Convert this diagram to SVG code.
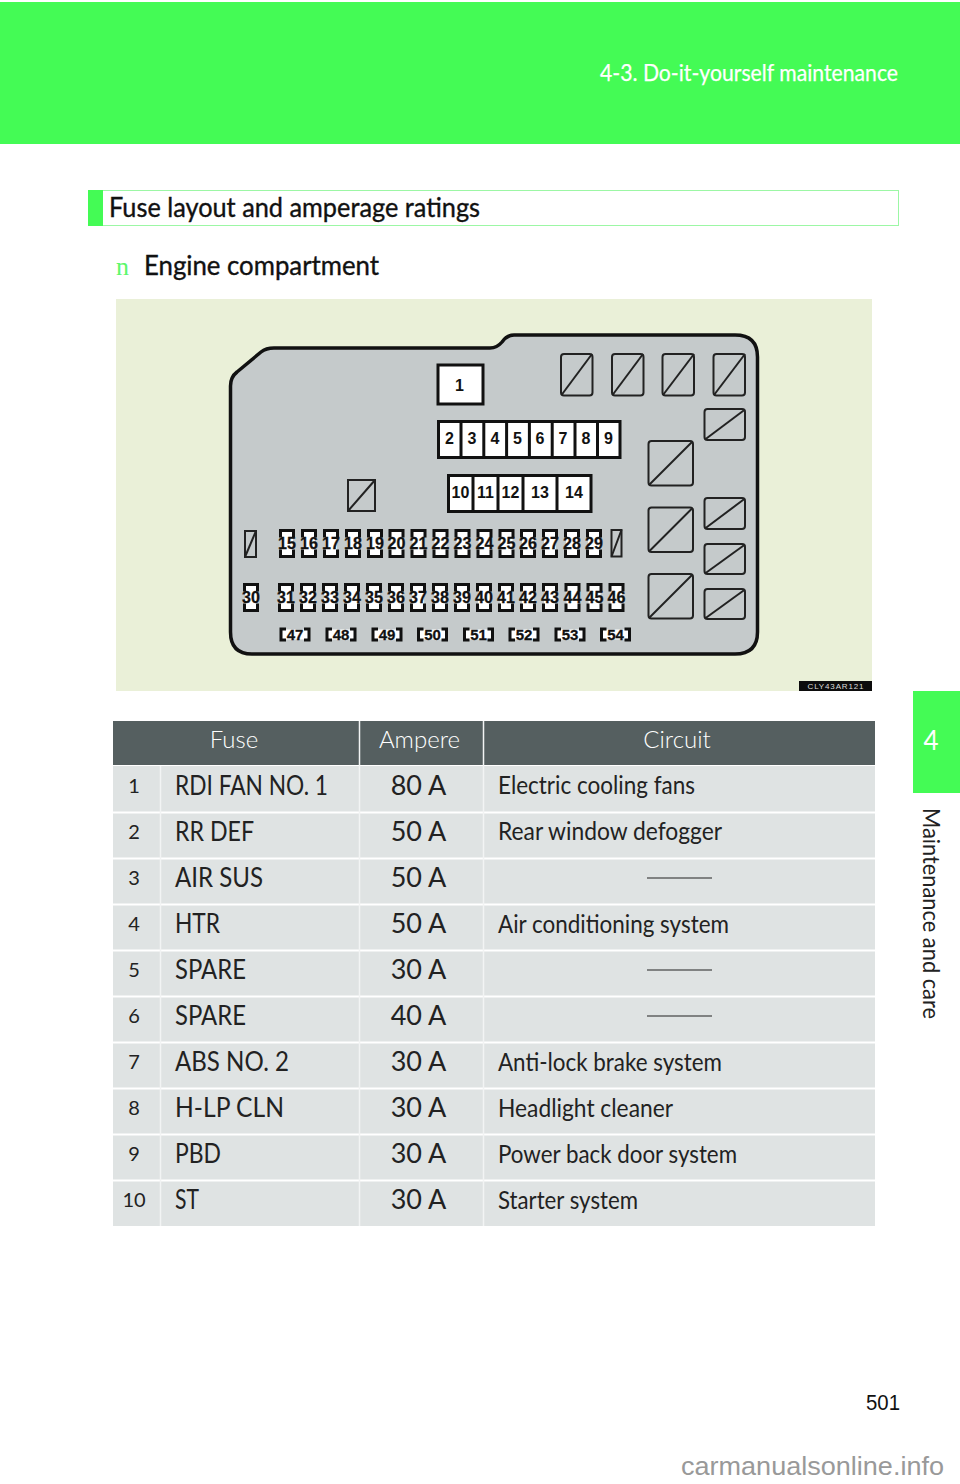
<svg xmlns="http://www.w3.org/2000/svg" xmlns:xlink="http://www.w3.org/1999/xlink" width="960" height="1484" viewBox="0 0 960 1484">
<style>
.l{font-family:Lato,"Open Sans",sans-serif}
.b{font-family:"Liberation Sans",Arial,sans-serif;font-weight:700;fill:#111;text-anchor:middle}
.box{fill:#fff;stroke:#111;stroke-width:3}
.div{stroke:#111;stroke-width:3;fill:none}
.rel{fill:none;stroke:#222;stroke-width:2}
.n1{font-size:16px;stroke:#111;stroke-width:.3}.n2{font-size:16px}.n4{font-size:15px;stroke:#111;stroke-width:.3}
.th{font-size:24px;font-weight:300;fill:#fff;text-anchor:middle}
.num{font-size:20px;font-weight:400;fill:#222;text-anchor:middle}
.nm{font-size:27px;font-weight:400;fill:#222}
.amp{font-size:27px;font-weight:400;fill:#222;text-anchor:middle}
.cir{font-size:25px;font-weight:400;fill:#222}
.sep{stroke:#fff;stroke-width:2}
.dash{stroke:#222;stroke-width:1.2}
.hd{font-size:26px;fill:#111;stroke:#111;stroke-width:.35}
</style>
<defs>
<g id="fs">
<rect x="-6" y="-13" width="12" height="26" fill="#fff"/>
<path d="M-6.500 -6V-13H6.500V-6M-6.500 6V13H6.500V6" fill="none" stroke="#111" stroke-width="3"/>
</g>
<g id="bk">
<rect x="-13" y="-5" width="26" height="10" fill="#fff"/>
<path d="M-9 -5.500H-14V5.500H-9M9 -5.500H14V5.500H9" fill="none" stroke="#111" stroke-width="3"/>
</g>
</defs>
<rect width="960" height="1484" fill="#fff"/>
<g id="header">
<rect x="0" y="2" width="960" height="142" fill="#44fb55"/>
<text class="l" x="600" y="81" font-size="22.500" fill="#fff" stroke="#fff" stroke-width=".25" textLength="298" lengthAdjust="spacingAndGlyphs">4-3. Do-it-yourself maintenance</text>
</g>
<g id="section-title">
<rect x="88.500" y="190.500" width="810" height="35" fill="#fff" stroke="#9cf7a5" stroke-width="1"/>
<rect x="88" y="190" width="15" height="36" fill="#44fb55"/>
<text class="l hd" x="109" y="217" textLength="371" lengthAdjust="spacingAndGlyphs">Fuse layout and amperage ratings</text>
</g>
<g id="subtitle">
<text x="116" y="275" font-family="'Liberation Serif',serif" font-size="26" fill="#5cf76a">n</text>
<text class="l hd" x="144" y="275" textLength="235" lengthAdjust="spacingAndGlyphs">Engine compartment</text>
</g>
<g id="figure">
<rect x="116" y="299" width="756" height="392" fill="#eaf0d8"/>
<rect x="799" y="681" width="73" height="10" fill="#0c0c0c"/>
<text x="835.500" y="689" font-family="'Liberation Sans',sans-serif" font-size="8" fill="#ddd" text-anchor="middle" textLength="56">CLY43AR121</text>
<path d="M230.500 386Q230.500 377 237 372L261 352Q266 348 274 348L490 348Q497 348 502 342Q507 335 514 335L735 335Q757.500 335 757.500 357L757.500 632Q757.500 654 735 654L252 654Q230.500 654 230.500 632Z" fill="#c5cacb" stroke="#111" stroke-width="3.500"/>
<g id="fuse-1"><rect class="box" x="438" y="365" width="45" height="39"/><text class="b n2" x="459.500" y="391">1</text></g>
<g id="fuses-2-9">
<rect class="box" x="438.500" y="421.500" width="181.500" height="36"/>
<path class="div" d="M461 421V458M483.800 421V458M506.600 421V458M529.400 421V458M552.200 421V458M575 421V458M597.500 421V458"/>
<g class="b n2"><text x="449.500" y="444">2</text><text x="472" y="444">3</text><text x="495" y="444">4</text><text x="517.500" y="444">5</text><text x="540" y="444">6</text><text x="563" y="444">7</text><text x="586" y="444">8</text><text x="608.500" y="444">9</text></g>
</g>
<g id="fuses-10-14">
<rect class="box" x="448.500" y="475.500" width="142.500" height="36"/>
<path class="div" d="M473 475V512M498 475V512M523 475V512M557 475V512"/>
<g class="b n2"><text x="460.500" y="498">10</text><text x="485.500" y="498">11</text><text x="510.500" y="498">12</text><text x="540" y="498">13</text><text x="574" y="498">14</text></g>
</g>
<g id="relays">
<rect class="rel" x="561" y="354" width="31.500" height="41.500" rx="3"/><path class="rel" d="M561.500 395L592 354"/>
<rect class="rel" x="612" y="354" width="31.500" height="41.500" rx="3"/><path class="rel" d="M612.500 395L643 354"/>
<rect class="rel" x="662.500" y="354" width="31.500" height="41.500" rx="3"/><path class="rel" d="M663 395L694 354"/>
<rect class="rel" x="713.500" y="354" width="31.500" height="41.500" rx="3"/><path class="rel" d="M714 395L745 354"/>
<rect class="rel" x="704.500" y="409" width="40.500" height="31" rx="3"/><path class="rel" d="M705 439.500L745 409.500"/>
<rect class="rel" x="648.500" y="441" width="44.500" height="44.500" rx="3"/><path class="rel" d="M649 485L692.500 441.500"/>
<rect class="rel" x="648.500" y="507.500" width="44.500" height="44.500" rx="3"/><path class="rel" d="M649 551.500L692.500 508"/>
<rect class="rel" x="648.500" y="574" width="44.500" height="44.500" rx="3"/><path class="rel" d="M649 618L692.500 574.500"/>
<rect class="rel" x="704.500" y="498" width="40.500" height="31" rx="3"/><path class="rel" d="M705 528.500L745 498.500"/>
<rect class="rel" x="704.500" y="544" width="40.500" height="30" rx="3"/><path class="rel" d="M705 573.500L745 544.500"/>
<rect class="rel" x="704.500" y="589" width="40.500" height="30" rx="3"/><path class="rel" d="M705 618.500L745 589.500"/>
<rect class="rel" x="348" y="480" width="27" height="31"/><path class="rel" d="M348 511L375 480"/>
<rect class="rel" x="245" y="531" width="11" height="26"/><path class="rel" d="M245 557L256 531"/>
<rect class="rel" x="611.500" y="530" width="10" height="26.500"/><path class="rel" d="M611.500 556.500L621.500 530"/>
</g>
<g id="fuses-15-29">
<use href="#fs" x="287" y="543.500"/><use href="#fs" x="309" y="543.500"/><use href="#fs" x="331" y="543.500"/><use href="#fs" x="353" y="543.500"/><use href="#fs" x="375" y="543.500"/><use href="#fs" x="396.500" y="543.500"/><use href="#fs" x="418.500" y="543.500"/><use href="#fs" x="440.500" y="543.500"/><use href="#fs" x="462.500" y="543.500"/><use href="#fs" x="484.500" y="543.500"/><use href="#fs" x="506.500" y="543.500"/><use href="#fs" x="528" y="543.500"/><use href="#fs" x="550" y="543.500"/><use href="#fs" x="572" y="543.500"/><use href="#fs" x="594" y="543.500"/>
<g class="b n1"><text x="287" y="549">15</text><text x="309" y="549">16</text><text x="331" y="549">17</text><text x="353" y="549">18</text><text x="375" y="549">19</text><text x="396.500" y="549">20</text><text x="418.500" y="549">21</text><text x="440.500" y="549">22</text><text x="462.500" y="549">23</text><text x="484.500" y="549">24</text><text x="506.500" y="549">25</text><text x="528" y="549">26</text><text x="550" y="549">27</text><text x="572" y="549">28</text><text x="594" y="549">29</text></g>
</g>
<g id="fuses-30-46">
<use href="#fs" x="251" y="597.500"/><use href="#fs" x="286" y="597.500"/><use href="#fs" x="308" y="597.500"/><use href="#fs" x="330" y="597.500"/><use href="#fs" x="352" y="597.500"/><use href="#fs" x="374" y="597.500"/><use href="#fs" x="396" y="597.500"/><use href="#fs" x="418" y="597.500"/><use href="#fs" x="440" y="597.500"/><use href="#fs" x="462" y="597.500"/><use href="#fs" x="484" y="597.500"/><use href="#fs" x="506" y="597.500"/><use href="#fs" x="528" y="597.500"/><use href="#fs" x="550" y="597.500"/><use href="#fs" x="572.500" y="597.500"/><use href="#fs" x="594.500" y="597.500"/><use href="#fs" x="616.500" y="597.500"/>
<g class="b n1"><text x="251" y="603">30</text><text x="286" y="603">31</text><text x="308" y="603">32</text><text x="330" y="603">33</text><text x="352" y="603">34</text><text x="374" y="603">35</text><text x="396" y="603">36</text><text x="418" y="603">37</text><text x="440" y="603">38</text><text x="462" y="603">39</text><text x="484" y="603">40</text><text x="506" y="603">41</text><text x="528" y="603">42</text><text x="550" y="603">43</text><text x="572.500" y="603">44</text><text x="594.500" y="603">45</text><text x="616.500" y="603">46</text></g>
</g>
<g id="fuses-47-54">
<use href="#bk" x="295" y="634.500"/><use href="#bk" x="341" y="634.500"/><use href="#bk" x="387" y="634.500"/><use href="#bk" x="432.500" y="634.500"/><use href="#bk" x="478.500" y="634.500"/><use href="#bk" x="524" y="634.500"/><use href="#bk" x="570" y="634.500"/><use href="#bk" x="615.500" y="634.500"/>
<g class="b n4"><text x="295" y="640">47</text><text x="341" y="640">48</text><text x="387" y="640">49</text><text x="432.500" y="640">50</text><text x="478.500" y="640">51</text><text x="524" y="640">52</text><text x="570" y="640">53</text><text x="615.500" y="640">54</text></g>
</g>
</g>
<g id="table" class="l">
<rect x="113" y="721" width="762" height="44" fill="#555f60"/>
<rect x="113" y="766" width="762" height="460" fill="#dfe3e3"/>
<path class="sep" d="M113 812.500H875M113 858.500H875M113 904.500H875M113 950.500H875M113 996.500H875M113 1042.500H875M113 1088.500H875M113 1134.500H875M113 1180.500H875"/>
<path d="M359.500 721V1226M483.500 721V1226" stroke="#f2f4f4" stroke-width="1.500"/>
<path d="M160.500 766V1226" stroke="#f2f4f4" stroke-width="1.500"/>
<g class="l">
<text class="th" x="234" y="748">Fuse</text><text class="th" x="419.500" y="748">Ampere</text><text class="th" x="677" y="748">Circuit</text>
<text class="num" x="134" y="793">1</text><text class="nm" x="175" y="795" textLength="153" lengthAdjust="spacingAndGlyphs">RDI FAN NO. 1</text><text class="amp" x="418.500" y="795">80 A</text><text class="cir" x="498" y="794" textLength="197" lengthAdjust="spacingAndGlyphs">Electric cooling fans</text>
<text class="num" x="134" y="839">2</text><text class="nm" x="175" y="841" textLength="79" lengthAdjust="spacingAndGlyphs">RR DEF</text><text class="amp" x="418.500" y="841">50 A</text><text class="cir" x="498" y="840" textLength="224" lengthAdjust="spacingAndGlyphs">Rear window defogger</text>
<text class="num" x="134" y="885">3</text><text class="nm" x="175" y="887" textLength="88" lengthAdjust="spacingAndGlyphs">AIR SUS</text><text class="amp" x="418.500" y="887">50 A</text><path class="dash" d="M647 878H712"/>
<text class="num" x="134" y="931">4</text><text class="nm" x="175" y="933" textLength="45" lengthAdjust="spacingAndGlyphs">HTR</text><text class="amp" x="418.500" y="933">50 A</text><text class="cir" x="498" y="933" textLength="231" lengthAdjust="spacingAndGlyphs">Air conditioning system</text>
<text class="num" x="134" y="977">5</text><text class="nm" x="175" y="979" textLength="71" lengthAdjust="spacingAndGlyphs">SPARE</text><text class="amp" x="418.500" y="979">30 A</text><path class="dash" d="M647 970H712"/>
<text class="num" x="134" y="1023">6</text><text class="nm" x="175" y="1025" textLength="71" lengthAdjust="spacingAndGlyphs">SPARE</text><text class="amp" x="418.500" y="1025">40 A</text><path class="dash" d="M647 1016H712"/>
<text class="num" x="134" y="1069">7</text><text class="nm" x="175" y="1071" textLength="114" lengthAdjust="spacingAndGlyphs">ABS NO. 2</text><text class="amp" x="418.500" y="1071">30 A</text><text class="cir" x="498" y="1071" textLength="224" lengthAdjust="spacingAndGlyphs">Anti-lock brake system</text>
<text class="num" x="134" y="1115">8</text><text class="nm" x="175" y="1117" textLength="109" lengthAdjust="spacingAndGlyphs">H-LP CLN</text><text class="amp" x="418.500" y="1117">30 A</text><text class="cir" x="498" y="1117" textLength="175" lengthAdjust="spacingAndGlyphs">Headlight cleaner</text>
<text class="num" x="134" y="1161">9</text><text class="nm" x="175" y="1163" textLength="46" lengthAdjust="spacingAndGlyphs">PBD</text><text class="amp" x="418.500" y="1163">30 A</text><text class="cir" x="498" y="1163" textLength="239" lengthAdjust="spacingAndGlyphs">Power back door system</text>
<text class="num" x="134" y="1207">10</text><text class="nm" x="175" y="1209" textLength="24" lengthAdjust="spacingAndGlyphs">ST</text><text class="amp" x="418.500" y="1209">30 A</text><text class="cir" x="498" y="1209" textLength="140" lengthAdjust="spacingAndGlyphs">Starter system</text>
</g>
</g>
<g id="side-tab">
<rect x="913" y="691" width="47" height="102" fill="#44fb55"/>
<text class="l" x="931" y="750" font-size="26" fill="#fff" text-anchor="middle">4</text>
<text class="l" x="0" y="0" transform="translate(923 808) rotate(90)" font-size="24" font-weight="400" fill="#222" textLength="211" lengthAdjust="spacingAndGlyphs">Maintenance and care</text>
</g>
<text id="page-number" x="866" y="1410" font-family="'Liberation Sans',sans-serif" font-size="22" fill="#111" textLength="34" lengthAdjust="spacingAndGlyphs">501</text>
<text id="watermark" x="681" y="1475" font-family="'Liberation Sans',sans-serif" font-size="26" fill="#999" textLength="263" lengthAdjust="spacingAndGlyphs">carmanualsonline.info</text>
</svg>
